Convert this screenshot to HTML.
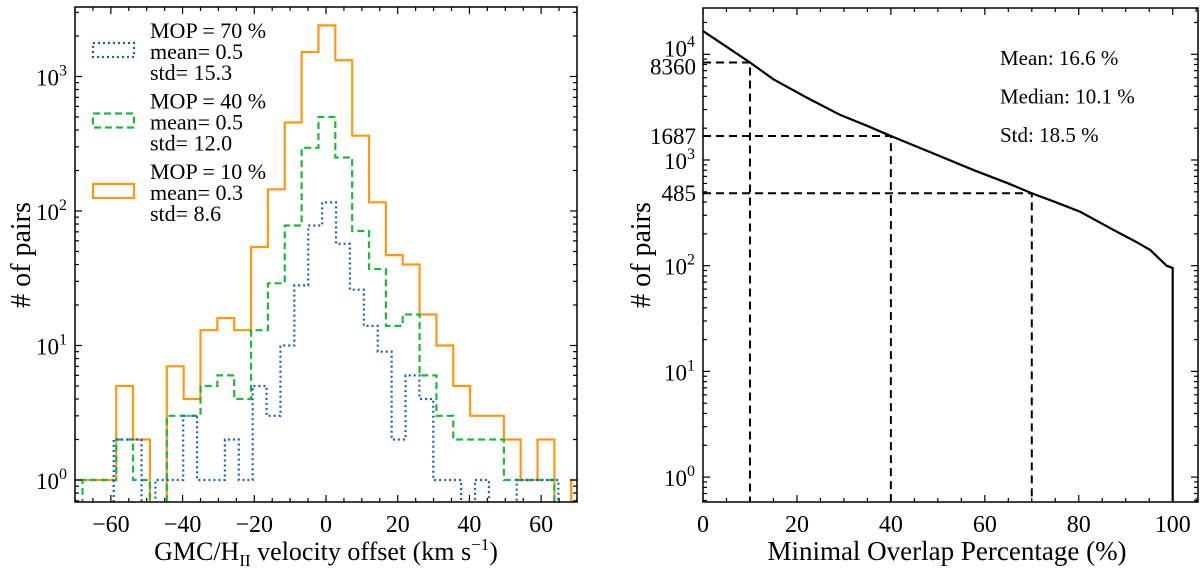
<!DOCTYPE html>
<html><head><meta charset="utf-8"><style>
html,body{margin:0;padding:0;background:#fff;}
svg{display:block;font-family:"Liberation Serif",serif;}
</style></head><body>
<svg id="c" width="1200" height="571" viewBox="0 0 1200 571" xmlns="http://www.w3.org/2000/svg">
<defs>
<clipPath id="clipL"><rect x="75" y="7" width="502" height="495"/></clipPath>
<clipPath id="clipR"><rect x="703" y="8" width="495" height="494"/></clipPath>
</defs>
<g id="left"></g>
<g id="right"></g>
</svg>
<script>
// ---- Left chart data ----
const orangeStart = -72.6, orangeWidth = 4.7;
const orangeCounts = [1,1,1,5,2,0,7,4,13,16,13,54,145,455,1520,2400,1320,363,116,47,40,17,10,5,3,3,2,1,2,0,1];
const greenStart = -72.6, greenWidth = 4.7;
const greenCounts = [0,1,1,2,1,0,3,3,5,6,4,13,29,78,295,500,250,71,37,14,17,6,3,2,2,2,1,1,1,0,0];
const blueStart = -59.2, blueWidth = 3.875;
const blueCounts = [2,2,0,1,1,3,1,1,2,1,5,3,10,28,78,116,57,26,14,9,2,6,4,1,1,0,1,0,0,1,1,1];
const leftXTicks = [-60,-40,-20,0,20,40,60];
const leftYTicks = [0,1,2,3];
const legendEntries = [
  {label:"MOP = 70 %", mean:"mean= 0.5", std:"std= 15.3"},
  {label:"MOP = 40 %", mean:"mean= 0.5", std:"std= 12.0"},
  {label:"MOP = 10 %", mean:"mean= 0.3", std:"std= 8.6"}
];
// ---- Right chart data ----
const mopPct = [0,5,10,15,21.7,29.2,35,40,49,57.6,65,70,75,80.3,87.4,92,95.2,98.7,100];
const mopPairs = [16600,11800,8360,5800,3975,2670,2100,1687,1155,803,600,485,400,324,218,170,141,100,95];
const markPct = [10,40,70];
const markPairs = [8360,1687,485];
const rightXTicks = [0,20,40,60,80,100];
const rightYDecades = [0,1,2,3,4];
const statsLines = ["Mean: 16.6 %","Median: 10.1 %","Std: 18.5 %"];

const NS="http://www.w3.org/2000/svg";
function mk(tag, attrs, parent){const e=document.createElementNS(NS,tag);for(const k in attrs)e.setAttribute(k,attrs[k]);parent.appendChild(e);return e;}

// Left axes
const L={x0:75,x1:577,y0:7,y1:502,xmin:-70,xmax:70};
const lx=v=>L.x0+(v-L.xmin)/(L.xmax-L.xmin)*(L.x1-L.x0);
const ly=v=>v<=0?L.y1+20:480-Math.log10(v)*134.5;
const gL=document.getElementById('left');

function histPath(start,w,counts){
  let d=`M${lx(start)},${L.y1+20}`;
  counts.forEach((c,i)=>{const a=lx(start+i*w),b=lx(start+(i+1)*w),y=ly(c);d+=` L${a},${y} L${b},${y}`;});
  d+=` L${lx(start+counts.length*w)},${L.y1+20}`;
  return d;
}
const hg=mk('g',{'clip-path':'url(#clipL)'},gL);
let p=mk('path',{d:histPath(orangeStart,orangeWidth,orangeCounts),fill:'none',stroke:'#ff9810','stroke-width':2.2},hg);


p=mk('path',{d:histPath(greenStart,greenWidth,greenCounts),fill:'none',stroke:'#1db83c','stroke-width':2.2,'stroke-dasharray':'7,4'},hg);


p=mk('path',{d:histPath(blueStart,blueWidth,blueCounts),fill:'none',stroke:'#1560bd','stroke-width':2.2,'stroke-dasharray':'2,3'},hg);



let fr=mk('rect',{x:L.x0,y:L.y0,width:L.x1-L.x0,height:L.y1-L.y0,fill:'none',stroke:'#000','stroke-width':1.5},gL);


for(let v=-70;v<=70;v+=5){
  const X=lx(v),maj=v%20===0,len=maj?7:4;
  mk('line',{x1:X,y1:L.y1,x2:X,y2:L.y1-len,stroke:'#000','stroke-width':1.2},gL);
  mk('line',{x1:X,y1:L.y0,x2:X,y2:L.y0+len,stroke:'#000','stroke-width':1.2},gL);
}
leftXTicks.forEach(v=>{
  const t=mk('text',{x:lx(v),y:532,'font-size':24,'text-anchor':'middle'},gL);
  t.textContent=(v<0?'\u2212':'')+Math.abs(v);
  
  
});
for(let d=-1;d<=3;d++){for(let m=1;m<=9;m++){const v=m*Math.pow(10,d),Y=ly(v);if(Y<L.y0||Y>L.y1)continue;const len=m===1?7:4;
  mk('line',{x1:L.x0,y1:Y,x2:L.x0+len,y2:Y,stroke:'#000','stroke-width':1.2},gL);
  mk('line',{x1:L.x1,y1:Y,x2:L.x1-len,y2:Y,stroke:'#000','stroke-width':1.2},gL);}}
leftYTicks.forEach(dv=>{
  const t=mk('text',{x:67,y:ly(Math.pow(10,dv))+9,'font-size':23,'text-anchor':'end'},gL);
  t.innerHTML=`10<tspan dy="-10" font-size="16">${dv}</tspan>`;
  
  
});
let t=mk('text',{x:326,y:560,'font-size':26,'text-anchor':'middle'},gL);
t.innerHTML='GMC/H<tspan dy="6" font-size="17">II</tspan><tspan dy="-6"> velocity offset (km s</tspan><tspan dy="-10" font-size="17">\u22121</tspan><tspan dy="10">)</tspan>';


t=mk('text',{x:0,y:0,'font-size':28,'text-anchor':'middle',transform:'translate(30,255) rotate(-90)'},gL);
t.textContent='# of pairs';


const legStyles=[{s:'#1560bd',da:'2,3'},{s:'#1db83c',da:'7,4'},{s:'#ff9810',da:''}];
legendEntries.forEach((e,i)=>{
  const g=mk('g',{},gL);
  
  
  const cy=50+i*70.5;
  const r=mk('rect',{x:93,y:cy-7,width:41,height:14,fill:'none',stroke:legStyles[i].s,'stroke-width':2.2},g);
  if(legStyles[i].da)r.setAttribute('stroke-dasharray',legStyles[i].da);
  [e.label,e.mean,e.std].forEach((s,j)=>{const tt=mk('text',{x:150,y:cy-20+j*21+8,'font-size':22},g);tt.textContent=s;});
});

// Right axes
const R={x0:703,x1:1198,y0:8,y1:502};
const rx=v=>R.x0+v*4.697;
const ry=v=>54.3+(4-Math.log10(v))*105.7;
const gR=document.getElementById('right');
const cg=mk('g',{'clip-path':'url(#clipR)'},gR);
markPct.forEach((m,i)=>{
  const X=rx(m),Y=ry(markPairs[i]);
  const l=mk('path',{d:`M${R.x0},${Y} L${X},${Y} L${X},${R.y1}`,fill:'none',stroke:'#000','stroke-width':2,'stroke-dasharray':'8,5'},cg);
  
  
});
let d='';
mopPct.forEach((v,i)=>{d+=(i?' L':'M')+rx(v)+','+ry(mopPairs[i]);});
d+=` L${rx(100)},${R.y1+5}`;
p=mk('path',{d:d,fill:'none',stroke:'#000','stroke-width':2.2},cg);


fr=mk('rect',{x:R.x0,y:R.y0,width:R.x1-R.x0,height:R.y1-R.y0,fill:'none',stroke:'#000','stroke-width':1.5},gR);


for(let v=0;v<=105;v+=5){const X=rx(v),len=v%20===0?7:4;
  mk('line',{x1:X,y1:R.y1,x2:X,y2:R.y1-len,stroke:'#000','stroke-width':1.2},gR);
  mk('line',{x1:X,y1:R.y0,x2:X,y2:R.y0+len,stroke:'#000','stroke-width':1.2},gR);}
rightXTicks.forEach(v=>{
  const tt=mk('text',{x:rx(v),y:532,'font-size':24,'text-anchor':'middle'},gR);
  tt.textContent=v;
  
  
});
for(let dd=-1;dd<=4;dd++){for(let m=1;m<=9;m++){const v=m*Math.pow(10,dd),Y=ry(v);if(Y<R.y0||Y>R.y1)continue;const len=m===1?7:4;
  mk('line',{x1:R.x0,y1:Y,x2:R.x0+len,y2:Y,stroke:'#000','stroke-width':1.2},gR);
  mk('line',{x1:R.x1,y1:Y,x2:R.x1-len,y2:Y,stroke:'#000','stroke-width':1.2},gR);}}
rightYDecades.forEach(dv=>{
  const tt=mk('text',{x:695,y:ry(Math.pow(10,dv))+(dv===4?2:9),'font-size':23,'text-anchor':'end'},gR);
  tt.innerHTML=`10<tspan dy="-10" font-size="16">${dv}</tspan>`;
  
  
});
markPairs.forEach(v=>{
  const tt=mk('text',{x:696,y:ry(v)+(v===8360?12:8),'font-size':23,'text-anchor':'end'},gR);
  tt.textContent=v;
  
  
});
statsLines.forEach((s,i)=>{
  const tt=mk('text',{x:1000,y:65+i*38.5,'font-size':21},gR);
  tt.textContent=s;
  
  
});
t=mk('text',{x:947,y:560,'font-size':27,'text-anchor':'middle'},gR);
t.textContent='Minimal Overlap Percentage (%)';


t=mk('text',{x:0,y:0,'font-size':28,'text-anchor':'middle',transform:'translate(650,255) rotate(-90)'},gR);
t.textContent='# of pairs';


</script>
</body></html>
